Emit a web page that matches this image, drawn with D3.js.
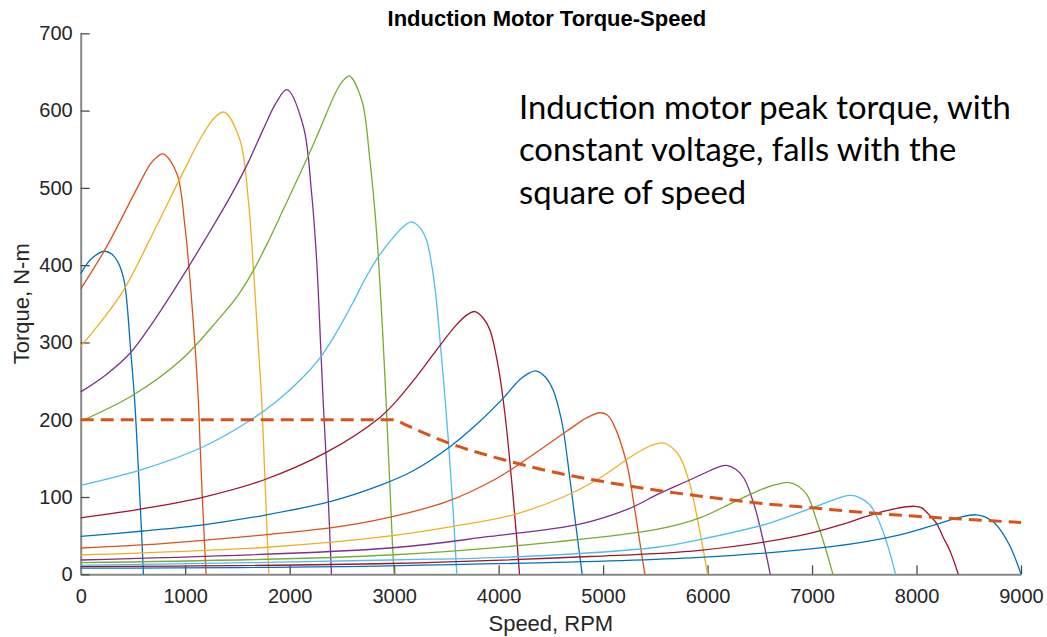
<!DOCTYPE html>
<html>
<head>
<meta charset="utf-8">
<script src="https://cdnjs.cloudflare.com/ajax/libs/d3/7.8.5/d3.min.js"></script>
<style>
  body { margin: 0; background: #fff; }
  svg { display: block; font-family: "Liberation Sans", Arial, Helvetica, sans-serif; }
</style>
</head>
<body>
<svg id="chart" width="1047" height="637"></svg>
<script>
// synchronous speed of each curve, rpm
var syncSpeeds = [600, 1200, 1800, 2400, 3000, 3600, 4200, 4800, 5400, 6000, 6600, 7200, 7800, 8400, 9000];

// [speed rpm, torque N-m], one array per synchronous speed
var c600  = [[0,389],[100,408],[226,418],[300,414],[360,403],[414,381],[440,355],[478,290],[516,226],[551,139],[583,53],[600,0]];
var c1200 = [[0,369],[249,424],[503,490],[663,530],[730,540],[790,544],[919,519],[998,450],[1046,381],[1094,295],[1126,226],[1142,170],[1164,100],[1200,0]];
var c1800 = [[0,295],[200,328],[408,367],[727,451],[950,512],[1173,570],[1290,592],[1374,598],[1524,562],[1604,485],[1652,398],[1700,295],[1732,226],[1757,145],[1800,0]];
var c2400 = [[0,236],[240,258],[472,286],[711,330],[950,380],[1190,433],[1429,488],[1600,532],[1748,576],[1870,610],[1974,627],[2130,580],[2210,493],[2258,407],[2297,295],[2320,226],[2370,96],[2400,0]];
var c3000 = [[0,198],[503,232],[966,278],[1300,327],[1500,360],[1652,393],[1800,432],[1939,472],[2163,537],[2290,576],[2450,626],[2520,640],[2570,645],[2689,614],[2768,536],[2833,441],[2880,338],[2921,230],[2985,36],[3000,0]];
var c3600 = [[0,115],[599,136],[1173,165],[1620,199],[1876,224],[2099,251],[2290,280],[2417,306],[2600,350],[2737,386],[2870,415],[2992,436],[3090,450],[3167,456],[3250,448],[3311,432],[3360,400],[3400,360],[3438,305],[3477,245],[3518,175],[3560,92],[3600,0]];
var c4200 = [[0,73],[599,85],[1177,100],[1751,122],[2354,158],[2864,203],[3020,224],[3151,245],[3300,271],[3438,296],[3598,323],[3700,336],[3773,340],[3850,332],[3917,316],[3996,269],[4060,208],[4124,122],[4172,49],[4200,0]];
var c4800 = [[0,49],[599,56],[1173,64],[1780,77],[2386,94],[2864,115],[3183,134],[3534,165],[3821,198],[4044,228],[4204,252],[4300,261],[4364,263],[4450,255],[4523,238],[4580,212],[4618,188],[4682,124],[4746,56],[4800,0]];
var c5400 = [[0,34],[584,38],[1173,44],[2386,60],[2864,71],[3502,94],[3981,124],[4300,152],[4651,185],[4850,203],[4969,209],[5040,206],[5097,195],[5225,144],[5304,83],[5368,27],[5400,0]];
var c6000 = [[0,25],[1780,35],[2864,48],[3566,62],[4140,77],[4618,100],[4938,122],[5288,154],[5450,166],[5569,170],[5650,165],[5735,152],[5828,118],[5908,68],[6000,0]];
var c6600 = [[0,18.5],[2960,34],[3917,49],[4778,65],[5232,84],[5532,104],[5828,122],[6022,134],[6110,139],[6182,141],[6270,136],[6350,124],[6450,88],[6530,45],[6600,0]];
var c7200 = [[0,15],[2960,25],[4555,42],[5512,58],[5926,73],[6245,93],[6500,109],[6650,116],[6771,119],[6870,114],[6955,102],[7043,70],[7130,33],[7200,0]];
var c7800 = [[0,11.5],[2960,18.5],[4235,23],[5512,35],[5926,45],[6564,65],[6982,85],[7200,96],[7362,102],[7460,99],[7553,90],[7615,76],[7680,55],[7740,30],[7800,0]];
var c8400 = [[0,10],[2960,14],[4874,23],[5926,31],[6883,50],[7300,65],[7520,75],[7800,85],[7983,88],[8050,86],[8100,80],[8191,66],[8255,48],[8318,31],[8400,0]];
var c9000 = [[0,8],[2960,11],[5926,22],[7202,36],[7840,51],[8223,66],[8420,74],[8574,77],[8660,74],[8750,66],[8893,37],[9000,0]];

// dashed limit line: constant torque to 3000 rpm, then falling
var limitCurve = [[0,200],[3000,200],[3100,194],[3250,185],[3500,171],[4000,150],[4500,133],[5000,120],[5500,109],[6000,100],[6500,92],[7000,86],[7500,80],[8000,75],[8500,71],[9000,67]];

var xTicks = [0, 1000, 2000, 3000, 4000, 5000, 6000, 7000, 8000, 9000];
var yTicks = [0, 100, 200, 300, 400, 500, 600, 700];
var seriesColors = ["#0072BD", "#D95319", "#EDB120", "#7E2F8E", "#77AC30", "#4DBEEE", "#A2142F"];
var noteLines = ["Induction motor peak torque, with", "constant voltage, falls with the", "square of speed"];

var curves = [c600, c1200, c1800, c2400, c3000, c3600, c4200, c4800, c5400, c6000, c6600, c7200, c7800, c8400, c9000];

var margin = {top: 33.3, right: 26, bottom: 62.7, left: 80.7};
var width = 1047 - margin.left - margin.right;
var height = 637 - margin.top - margin.bottom;

var svg = d3.select("#chart");
var g = svg.append("g")
    .attr("transform", "translate(" + margin.left + "," + margin.top + ")");

var x = d3.scaleLinear().domain([0, 9000]).range([0, width]);
var y = d3.scaleLinear().domain([0, 700]).range([height, 0]);

// axes, ticks pointing inward like matlab
function drawAxes() {
    var xAxis = g.append("g")
        .attr("transform", "translate(0," + height + ")")
        .call(d3.axisBottom(x).tickValues(xTicks).tickFormat(d3.format("d"))
            .tickSize(-9).tickSizeOuter(0).tickPadding(15));
    var yAxis = g.append("g")
        .call(d3.axisLeft(y).tickValues(yTicks).tickFormat(d3.format("d"))
            .tickSize(-9).tickSizeOuter(0).tickPadding(8));

    [xAxis, yAxis].forEach(function(a) {
        a.select(".domain").attr("stroke", "#878787").attr("stroke-width", 2);
        a.selectAll(".tick line").attr("stroke", "#4d4d4d").attr("stroke-width", 1.3);
        a.selectAll(".tick text")
            .attr("fill", "#262626")
            .style("font-size", "20px")
            .style("font-family", "'Liberation Sans', Arial, sans-serif");
    });
}

function drawCurves() {
    var line = d3.line()
        .x(function(d) { return x(d[0]); })
        .y(function(d) { return y(d[1]); })
        .curve(d3.curveCatmullRom.alpha(0.5));

    g.selectAll(".motor")
        .data(curves)
        .enter().append("path")
        .attr("class", "motor")
        .attr("d", line)
        .attr("fill", "none")
        .attr("stroke", function(d, i) { return seriesColors[i % seriesColors.length]; })
        .attr("stroke-width", 1.3);

    // the limit line keeps its corner at 3000 rpm
    g.append("path")
        .datum(limitCurve)
        .attr("d", line.curve(d3.curveMonotoneX))
        .attr("fill", "none")
        .attr("stroke", "#D95319")
        .attr("stroke-width", 3)
        .attr("stroke-dasharray", "13,7");
}

function drawText() {
    svg.append("text")
        .attr("x", margin.left + width / 2 - 4)
        .attr("y", 26)
        .attr("text-anchor", "middle")
        .style("font-size", "22px")
        .style("font-weight", "bold")
        .attr("fill", "#000")
        .text("Induction Motor Torque-Speed");

    svg.append("text")
        .attr("x", margin.left + width / 2)
        .attr("y", 631)
        .attr("text-anchor", "middle")
        .style("font-size", "22px")
        .attr("fill", "#262626")
        .text("Speed, RPM");

    svg.append("text")
        .attr("transform", "translate(29," + (margin.top + height / 2) + ") rotate(-90)")
        .attr("text-anchor", "middle")
        .style("font-size", "22px")
        .attr("fill", "#262626")
        .text("Torque, N-m");

    // annotation block, sized so the first line spans the same width as the picture
    var note = svg.append("g").style("font-family", "Lato, 'Open Sans', sans-serif");
    var lines = note.selectAll("text")
        .data(noteLines)
        .enter().append("text")
        .attr("x", 519)
        .attr("y", function(d, i) { return 119 + i * 42.4; })
        .attr("fill", "#000")
        .style("font-size", "36px")
        .text(function(d) { return d; });

    var w = lines.node().getComputedTextLength();
    var size = 36 * 492 / w;
    lines.style("font-size", size + "px");
}

drawAxes();
drawCurves();
drawText();
</script>
</body>
</html>
